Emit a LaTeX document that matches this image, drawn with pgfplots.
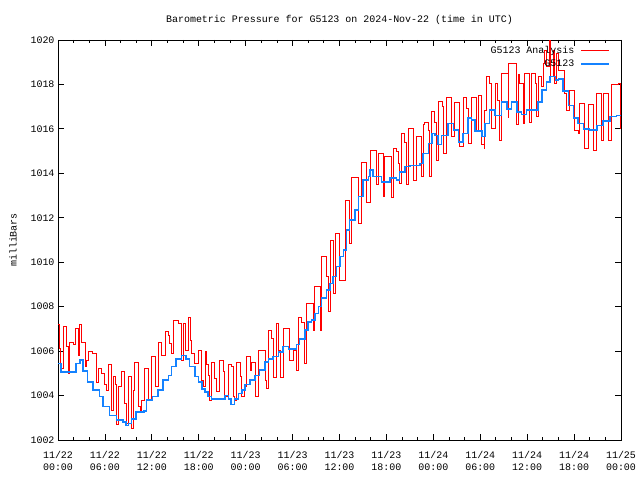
\documentclass[border=0pt]{standalone}
\usepackage{pgfplots}
\usepackage{pgfplotstable}
\pgfplotsset{compat=1.18}
\usepackage{fontspec}
\setmainfont{Liberation Mono}
\definecolor{anred}{RGB}{255,0,0}
\definecolor{obsblue}{RGB}{20,130,255}

\pgfplotstableread{
t p
0 1007.2
0.15 1006.1
0.3 1005.2
0.7 1007.1
1.1 1006.2
1.3 1005.0
1.5 1006.4
2.0 1006.3
2.2 1007.0
2.6 1005.8
2.8 1007.2
3.0 1006.4
3.45 1005.3
3.7 1005.6
3.9 1006.0
4.4 1005.9
4.95 1004.6
5.15 1005.2
5.6 1005.0
6.0 1004.5
6.2 1004.25
6.45 1005.4
6.85 1003.35
7.05 1004.85
7.3 1004.5
7.5 1002.7
7.7 1004.4
8.15 1005.1
8.55 1003.65
8.8 1002.75
9.0 1004.85
9.4 1002.5
9.6 1004.25
9.8 1005.5
10.25 1003.5
10.5 1003.35
10.7 1003.8
11.1 1005.2
11.55 1003.8
12.0 1005.75
12.4 1004.4
12.85 1006.4
13.25 1005.8
13.7 1006.9
14.1 1006.7
14.3 1006.35
14.5 1005.9
14.75 1007.4
15.4 1007.25
15.8 1005.6
16.0 1007.25
16.25 1006.05
16.65 1007.5
16.9 1006.5
17.1 1005.9
17.5 1005.45
17.9 1006.05
18.35 1004.7
18.55 1004.4
18.8 1006.0
19.0 1005.4
19.2 1004.9
19.4 1003.8
19.65 1005.5
20.0 1004.75
20.3 1004.2
20.7 1005.6
21.1 1005.1
21.35 1003.95
21.8 1005.4
22.2 1005.3
22.4 1003.95
22.6 1003.8
22.85 1005.5
23.27 1004.85
23.5 1003.95
23.9 1004.4
24.1 1005.75
24.55 1005.15
24.76 1005.5
25.2 1003.95
25.6 1006.05
26.47 1004.7
26.7 1004.3
26.9 1006.95
27.3 1006.55
27.5 1004.8
27.96 1007.25
28.17 1006.05
28.5 1004.8
28.8 1007.0
29.66 1005.6
30.1 1006.05
30.5 1005.15
30.7 1007.5
31.15 1007.3
31.58 1005.45
31.8 1008.15
32.65 1006.95
32.86 1008.9
33.5 1006.95
33.7 1010.25
34.35 1009.35
34.56 1007.8
34.78 1011.0
35.2 1008.6
35.45 1011.3
36.05 1009.2
36.7 1012.8
37.3 1010.85
37.55 1013.8
38.4 1011.75
38.83 1014.5
39.47 1012.7
39.9 1015.05
40.75 1013.5
40.96 1014.9
41.6 1012.95
41.8 1014.75
42.66 1012.9
42.88 1015.1
43.3 1015.0
43.5 1014.45
43.73 1013.55
43.94 1015.8
44.37 1015.4
44.58 1013.5
44.8 1016.0
45.43 1013.7
45.86 1015.65
46.5 1013.85
46.7 1016.2
46.92 1016.3
47.35 1015.95
47.56 1013.85
47.78 1016.8
48.2 1016.3
48.4 1014.6
48.7 1017.25
49.14 1017.0
49.27 1014.9
49.7 1017.4
50.33 1015.65
50.76 1017.2
51.4 1015.2
51.8 1017.4
52.25 1016.9
52.46 1015.35
52.9 1017.4
53.53 1015.95
53.74 1017.5
54.1 1015.3
54.5 1015.1
54.6 1016.85
54.8 1018.35
55.24 1018.05
55.45 1016.0
55.88 1018.05
56.2 1017.3
56.5 1015.5
56.73 1018.5
57.58 1016.5
57.67 1018.95
58.65 1016.2
58.86 1018.45
59.07 1018.05
59.5 1016.25
59.7 1018.5
60.35 1016.3
60.56 1018.5
61.0 1018.05
61.2 1016.55
61.4 1018.35
61.84 1017.9
62.05 1018.95
62.27 1019.55
62.48 1018.8
62.9 1020.0
63.03 1018.35
63.33 1019.55
63.55 1018.05
63.76 1019.4
63.97 1018.65
64.8 1017.6
65.04 1016.85
65.46 1017.75
66.1 1015.95
66.5 1015.8
66.74 1017.15
67.38 1015.1
67.8 1017.1
68.45 1015.05
68.87 1017.6
69.5 1015.5
69.72 1017.6
70.36 1015.5
70.8 1018.0
71.64 1018.05
71.9 1016.0
72 1016.0
}\analysis

\pgfplotstableread{
t p
0 1005.45
0.4 1005.05
2.3 1005.45
2.8 1005.6
3.2 1005.1
3.8 1004.6
4.5 1004.25
5.3 1003.95
5.75 1003.5
6.6 1003.1
7.5 1002.9
8.3 1002.8
8.7 1002.65
9.0 1002.75
9.4 1002.95
10.0 1003.25
11.0 1003.3
11.3 1003.8
12.1 1003.95
12.8 1004.25
13.4 1004.7
14.1 1004.9
14.5 1005.3
15.1 1005.65
15.8 1005.8
16.4 1005.65
16.8 1005.3
17.5 1004.85
17.95 1004.6
18.4 1004.3
18.8 1004.15
19.2 1003.95
19.65 1003.85
21.35 1004.0
21.8 1003.85
22.1 1003.6
22.6 1003.85
23.06 1004.1
23.5 1004.25
23.9 1004.5
24.55 1004.7
25.2 1004.9
25.8 1005.15
26.5 1005.5
26.9 1005.65
27.5 1005.75
28.2 1005.95
28.8 1006.2
29.45 1006.1
30.5 1006.3
30.9 1006.55
31.6 1006.95
32.0 1007.3
32.4 1007.4
32.86 1007.7
33.3 1008.0
33.7 1008.4
34.35 1008.75
34.8 1009.05
35.2 1009.35
35.6 1009.8
36.05 1010.25
36.5 1010.55
36.9 1011.45
37.3 1011.9
38.0 1012.35
38.4 1012.95
39.0 1013.7
39.7 1013.85
39.9 1014.15
40.3 1013.85
41.4 1013.6
42.45 1013.8
43.3 1013.7
43.7 1014.05
44.4 1014.3
45.0 1014.35
46.3 1014.45
46.7 1014.9
47.35 1015.35
47.8 1015.8
48.2 1015.7
48.6 1015.3
49.05 1015.7
49.9 1016.25
50.55 1015.95
51.2 1015.4
51.8 1015.8
52.46 1016.5
52.9 1016.4
53.3 1015.9
54.2 1015.65
54.6 1016.25
55.2 1016.85
55.9 1016.6
56.7 1017.2
57.4 1016.9
58.0 1017.2
58.7 1016.75
59.3 1016.65
59.9 1016.85
61.4 1017.2
61.9 1017.75
62.5 1018.1
62.9 1018.35
63.6 1018.2
64.0 1018.25
64.6 1017.7
65.3 1017.05
65.9 1016.5
66.5 1016.25
67.2 1016.0
68.0 1015.95
68.9 1016.15
69.7 1016.35
70.6 1016.55
71.4 1016.6
72 1016.6
}\observed

\begin{document}
\begin{tikzpicture}
\path[use as bounding box] (-58bp,-40bp) rectangle (582bp,440bp);
\begin{axis}[
  at={(0,0)}, anchor=south west,
  scale only axis, width=563bp, height=400bp,
  xmin=0, xmax=72, ymin=1002, ymax=1020,
  xtick={0,6,...,72},
  xticklabels={{11/22\\00:00},{11/22\\06:00},{11/22\\12:00},{11/22\\18:00},
               {11/23\\00:00},{11/23\\06:00},{11/23\\12:00},{11/23\\18:00},
               {11/24\\00:00},{11/24\\06:00},{11/24\\12:00},{11/24\\18:00},
               {11/25\\00:00}},
  minor x tick num=2,
  ytick={1002,1004,...,1020},
  tick align=inside,
  major tick length=6bp, minor tick length=3bp,
  tick style={black, line width=0.8bp},
  axis line style={black, line width=0.8bp},
  font=\fontsize{10}{12}\selectfont,
  x tick label style={align=center, yshift=-8bp},
  /pgf/number format/assume math mode=true,
  yticklabel style={/pgf/number format/1000 sep={}},
  title={Barometric Pressure for G5123 on 2024-Nov-22 (time in UTC)},
  every axis title/.style={at={(0.5,1)}, anchor=center, yshift=20bp},
  ylabel={milliBars},
  every axis y label/.style={at={(0,0.5)}, xshift=-45bp, rotate=90, anchor=center},
  legend style={at={(1,1)}, anchor=north east, xshift=-8bp, yshift=-2bp,
                draw=none, fill=none, row sep=1bp, font=\fontsize{10}{12}\selectfont,
                /tikz/every odd column/.append style={column sep=4bp}},
  legend cell align=right,
  legend plot pos=right,
  legend image code/.code={\draw[#1] (0bp,0bp) -- (28bp,0bp);},
]
\addplot[const plot, color=anred, line width=0.9bp] table[x=t,y=p] {\analysis};
\addlegendentry{G5123 Analysis}
\addplot[const plot, color=obsblue, line width=1.5bp] table[x=t,y=p] {\observed};
\addlegendentry{G5123}
\end{axis}
\end{tikzpicture}
\end{document}
